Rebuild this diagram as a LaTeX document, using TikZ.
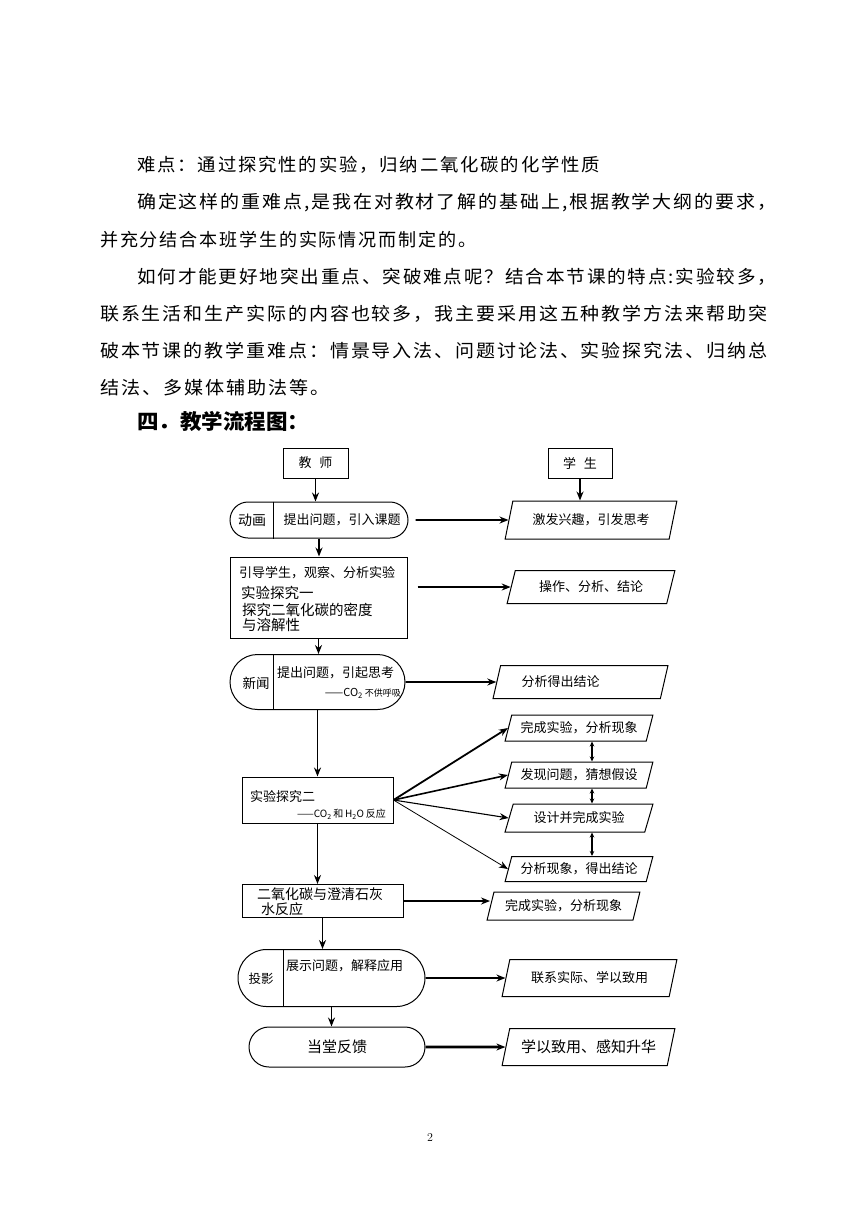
\documentclass[tikz,border=0pt]{standalone}
\usepackage{fontspec}
\usepackage{graphicx}
\newfontfamily\cjk{Noto Sans CJK SC}
\newfontfamily\cjkbody{Noto Sans CJK SC}[LetterSpace=10]
\usetikzlibrary{arrows.meta,shapes.geometric,shapes.misc}

% one line of running text, set to the width it has on the page
\newcommand{\bodyline}[2]{\resizebox{#1pt}{\height}{\cjkbody\fontsize{18}{18}\selectfont #2}}

\begin{document}
\begin{tikzpicture}[x=1pt,y=-1pt,>={Stealth[length=9pt,width=7pt]},
  every node/.style={font=\cjk\fontsize{13}{16}\selectfont,inner sep=0pt},
  box/.style={draw,rectangle,line width=1pt},
  oval/.style={draw,rounded rectangle,line width=1pt},
  para/.style={draw,trapezium,trapezium left angle=65,trapezium right angle=115,
    trapezium stretches=true,line width=1pt},
  flow/.style={->,line width=1.8pt}]

\useasboundingbox (0,0) rectangle (860,1216);

% running text above the chart
\node[anchor=west] (l1) at (137,165) {\bodyline{463}{难点：通过探究性的实验，归纳二氧化碳的化学性质}};
\node[anchor=west] (l2) at (137,203) {\bodyline{639}{确定这样的重难点,是我在对教材了解的基础上,根据教学大纲的要求，}};
\node[anchor=west] (l3) at (100,240) {\bodyline{376}{并充分结合本班学生的实际情况而制定的。}};
\node[anchor=west] (l4) at (137,277) {\bodyline{639}{如何才能更好地突出重点、突破难点呢？结合本节课的特点:实验较多，}};
\node[anchor=west] (l5) at (100,314) {\bodyline{667}{联系生活和生产实际的内容也较多，我主要采用这五种教学方法来帮助突}};
\node[anchor=west] (l6) at (100,351) {\bodyline{667}{破本节课的教学重难点：情景导入法、问题讨论法、实验探究法、归纳总}};
\node[anchor=west] (l7) at (100,388) {\bodyline{229}{结法、多媒体辅助法等。}};
\node[anchor=west] (head) at (137,421) {\resizebox{172pt}{\height}{\cjk\bfseries\fontsize{21}{21}\selectfont 四．教学流程图：}};

\begin{scope}
  \node[box,minimum width=65pt,minimum height=30pt] (teacher) at (315.5,463) {教\hspace{0.6em}师};
  \node[box,minimum width=64pt,minimum height=30pt] (student) at (580,463) {学\hspace{0.6em}生};

  \node[oval,minimum width=178pt,minimum height=36pt] (anim) at (319,520) {};
  \node[font=\cjk\fontsize{14}{16}\selectfont] (animL) at (252,520) {动画};
  \node (animT) at (342,520) {提出问题，引入课题};
  \coordinate (animD) at (273,520);
  \node[para,minimum width=172pt,minimum height=38pt] (p1) at (591,520) {激发兴趣，引发思考};

  \node[box,minimum width=177pt,minimum height=81pt] (probe1) at (318.5,597.5) {};
  \node[anchor=west] (probe1a) at (239,573) {引导学生，观察、分析实验};
  \node[anchor=west,font=\cjk\fontsize{14.5}{17}\selectfont] (probe1b) at (241,593) {实验探究一};
  \node[anchor=west,font=\cjk\fontsize{14.5}{17}\selectfont] (probe1c) at (242,610) {探究二氧化碳的密度};
  \node[anchor=west,font=\cjk\fontsize{14.5}{17}\selectfont] (probe1d) at (242,625) {与溶解性};
  \node[para,minimum width=168pt,minimum height=33pt] (p2) at (591,587) {操作、分析、结论};

  \node[oval,minimum width=175pt,minimum height=55pt] (news) at (317.5,682) {};
  \node[font=\cjk\fontsize{13.5}{16}\selectfont] (newsL) at (256,683) {新闻};
  \node[anchor=west] (newsT) at (277,673) {提出问题，引起思考};
  \node[anchor=east,font=\cjk\fontsize{11}{13}\selectfont] (newsCO) at (401,693) {——CO\textsubscript{2}\,{\fontsize{9}{11}\selectfont 不供呼吸}};
  \coordinate (newsD) at (273,682);
  \node[para,minimum width=175pt,minimum height=33pt] (p3) at (580.5,682) {分析得出结论\hspace*{40pt}};

  \node[box,minimum width=151pt,minimum height=46pt] (probe2) at (317.5,800) {};
  \node[anchor=west] (probe2a) at (250,796) {实验探究二};
  \node[anchor=east,font=\cjk\fontsize{10}{12}\selectfont] (probe2b) at (386,814) {——CO\textsubscript{2}\,和\,H\textsubscript{2}O\,反应};
  \node[para,minimum width=148pt,minimum height=26pt] (p4) at (579,728) {完成实验，分析现象};
  \node[para,minimum width=148pt,minimum height=26pt] (p5) at (579,775) {发现问题，猜想假设};
  \node[para,minimum width=148pt,minimum height=28pt] (p6) at (579,818) {设计并完成实验};
  \node[para,minimum width=148pt,minimum height=25pt] (p7) at (579,869) {分析现象，得出结论};

  \node[box,minimum width=161pt,minimum height=33pt] (lime) at (322.5,901) {};
  \node[anchor=west,font=\cjk\fontsize{14}{16}\selectfont] (limea) at (257,894) {二氧化碳与澄清石灰};
  \node[anchor=west,font=\cjk\fontsize{14}{16}\selectfont] (limeb) at (261,909.5) {水反应};
  \node[para,minimum width=153pt,minimum height=28pt] (p8) at (563.5,906) {完成实验，分析现象};

  \node[oval,minimum width=187pt,minimum height=57pt] (proj) at (331.5,978) {};
  \node[font=\cjk\fontsize{12.5}{15}\selectfont] (projL) at (261,979) {投影};
  \node[anchor=west] (projT) at (286,966) {展示问题，解释应用};
  \coordinate (projD) at (283,978);
  \node[para,minimum width=175pt,minimum height=37pt] (p9) at (589.5,978) {联系实际、学以致用};

  \node[oval,minimum width=176pt,minimum height=40pt,font=\cjk\fontsize{15}{18}\selectfont] (feed) at (337,1047) {当堂反馈};
  \node[para,minimum width=173pt,minimum height=37pt,font=\cjk\fontsize{15}{18}\selectfont] (p10) at (588.5,1047) {学以致用、感知升华};
\end{scope}

\draw[line width=1pt] (anim.north -| animD) -- (anim.south -| animD)
  (news.north -| newsD) -- (news.south -| newsD)
  (proj.north -| projD) -- (proj.south -| projD);

\path[flow] (teacher.south) edge (teacher.south |- anim.north)
  (student.south) edge (student.south |- p1.north)
  (anim) edge[shorten <=7pt] (p1)
  (anim.south) edge (anim.south |- probe1.north)
  (probe1.east |- p2.west) edge[shorten <=10pt] (p2.west)
  (probe1.south) edge (probe1.south |- news.north)
  (news) edge (p3)
  (news.south) edge (news.south |- probe2.north)
  (probe2.south) edge (probe2.south |- lime.north)
  (lime.east) edge (lime.east -| p8.west)
  (lime.south) edge (lime.south |- proj.north)
  (proj) edge (p9)
  (proj.south) edge (proj.south |- feed.north);
\path[flow,line width=2.6pt] (feed) edge (p10);

\path[->] (probe2.east) edge[line width=1.8pt] (p4.west)
  (probe2.east) edge[line width=1.6pt] (p5.west)
  (probe2.east) edge[line width=1.1pt] (p6.west)
  (probe2.east) edge[line width=0.8pt] (p7.west);

\path[<->,line width=1.8pt,>={Stealth[length=5pt,width=4.5pt]}]
  ([xshift=13pt]p4.south) edge ([xshift=13pt]p5.north)
  ([xshift=13pt]p5.south) edge ([xshift=13pt]p6.north)
  ([xshift=13pt]p6.south) edge ([xshift=13pt]p7.north);

\node[font=\rmfamily\fontsize{12}{14}\selectfont] (page) at (430,1137) {2};
\end{tikzpicture}
\end{document}
